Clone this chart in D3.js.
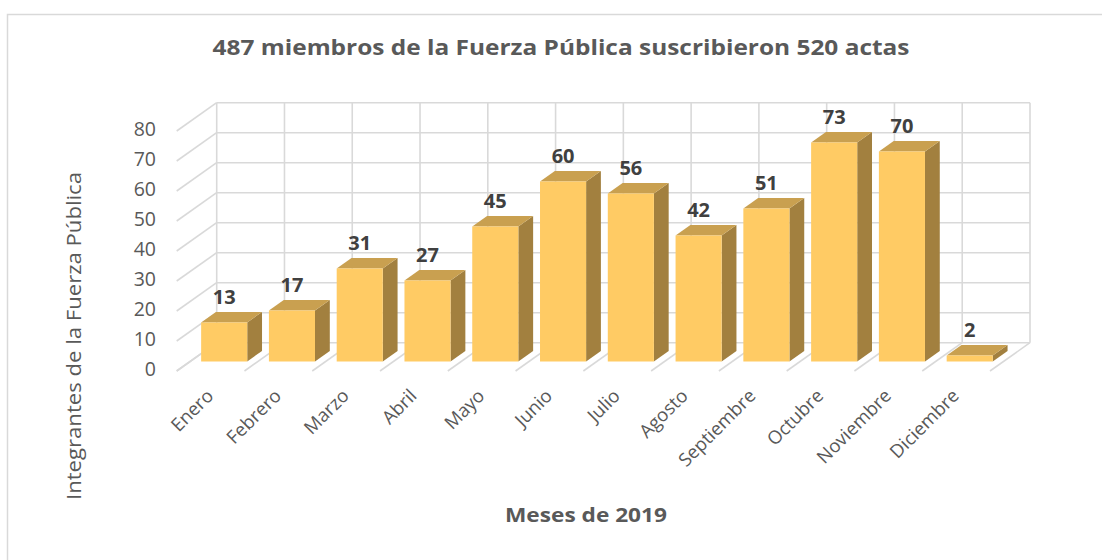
<!DOCTYPE html>
<html>
<head>
<meta charset="utf-8">
<script src="https://cdn.jsdelivr.net/npm/d3@7"></script>
<style>
  body { margin: 0; background: #fff; }
  svg { display: block; }
  .grid { stroke: #d9d9d9; stroke-width: 1.6; fill: none; }
  .tick-label { font-family: "Open Sans", sans-serif; fill: #595959; }
</style>
</head>
<body>
<div id="chart"></div>
<script>
// Chart data
const months = ["Enero", "Febrero", "Marzo", "Abril", "Mayo", "Junio",
                "Julio", "Agosto", "Septiembre", "Octubre", "Noviembre", "Diciembre"];
const members = [13, 17, 31, 27, 45, 60, 56, 42, 51, 73, 70, 2];
const yTicks = [0, 10, 20, 30, 40, 50, 60, 70, 80];

const chartTitle = "487 miembros de la Fuerza Pública suscribieron 520 actas";
const xTitle = "Meses de 2019";
const yTitle = "Integrantes de la Fuerza Pública";

const width = 1102, height = 560;

// back wall of the 3D box
const wall = { left: 216.7, right: 1030, top: 102.7, bottom: 342.7 };
// oblique offset from back wall to the front edge of the floor
const depth = { dx: -40, dy: 28.3 };
// bar depth range (0 = front, 1 = back)
const barFront = 0.34, barBack = 0.71;

const svg = d3.select('#chart')
    .append('svg')
    .attr('width', width)
    .attr('height', height);

// outer frame
svg.append('rect')
    .attr('x', 7.5).attr('y', 14.5)
    .attr('width', 1110).attr('height', 560)
    .attr('fill', 'none')
    .attr('stroke', '#d9d9d9')
    .attr('stroke-width', 1.5);

const xGrid = d3.scaleBand().domain(months).range([0, wall.right - wall.left]).padding(0);
const xBar = d3.scaleBand().domain(months).range([0, wall.right - wall.left])
    .paddingInner(0.32).paddingOuter(0.16);
const y = d3.scaleLinear().domain([0, 80]).range([wall.bottom, wall.top]);

// project a point: x along category axis, value v, depth d (0 front, 1 back)
function proj(x, v, d) {
    return [wall.left + x + (1 - d) * depth.dx, y(v) + (1 - d) * depth.dy];
}

const grid = svg.append('g');

// back wall horizontal lines
yTicks.forEach(t => {
    grid.append('line').attr('class', 'grid')
        .attr('x1', wall.left).attr('x2', wall.right)
        .attr('y1', y(t)).attr('y2', y(t));
    // side wall diagonals
    const p0 = proj(0, t, 0), p1 = proj(0, t, 1);
    grid.append('line').attr('class', 'grid')
        .attr('x1', p0[0]).attr('y1', p0[1])
        .attr('x2', p1[0]).attr('y2', p1[1]);
});

// back wall verticals and floor diagonals at category boundaries
const bounds = months.map(m => xGrid(m)).concat([xGrid.range()[1]]);
bounds.forEach(bx => {
    grid.append('line').attr('class', 'grid')
        .attr('x1', wall.left + bx).attr('x2', wall.left + bx)
        .attr('y1', wall.top).attr('y2', wall.bottom);
    const p0 = proj(bx, 0, 0), p1 = proj(bx, 0, 1);
    grid.append('line').attr('class', 'grid')
        .attr('x1', p0[0]).attr('y1', p0[1])
        .attr('x2', p1[0]).attr('y2', p1[1]);
});

// bars
const bars = svg.append('g');
const pts = a => a.map(p => p.join(',')).join(' ');

months.forEach((m, i) => {
    const v = members[i];
    const x0 = xBar(m), x1 = x0 + xBar.bandwidth();
    const fbl = proj(x0, 0, barFront), fbr = proj(x1, 0, barFront);
    const ftl = proj(x0, v, barFront), ftr = proj(x1, v, barFront);
    const btl = proj(x0, v, barBack), btr = proj(x1, v, barBack);
    const bbr = proj(x1, 0, barBack);

    // side face
    bars.append('polygon')
        .attr('points', pts([fbr, ftr, btr, bbr]))
        .attr('fill', '#a2803f');
    // top face
    bars.append('polygon')
        .attr('points', pts([ftl, ftr, btr, btl]))
        .attr('fill', '#c9a050');
    // front face
    bars.append('polygon')
        .attr('points', pts([fbl, fbr, ftr, ftl]))
        .attr('fill', '#ffcb64');

    // value label
    svg.append('text')
        .attr('x', (ftl[0] + ftr[0]) / 2)
        .attr('y', ftl[1] - 18)
        .attr('text-anchor', 'middle')
        .style('font-family', '"Open Sans", sans-serif')
        .style('font-weight', 'bold')
        .style('font-size', '20px')
        .style('fill', '#404040')
        .text(v);
});

// y axis tick labels (front-left edge)
yTicks.forEach(t => {
    const p = proj(0, t, 0);
    svg.append('text')
        .attr('class', 'tick-label')
        .attr('x', 156)
        .attr('y', p[1] - 2)
        .attr('dy', '0.35em')
        .attr('text-anchor', 'end')
        .style('font-size', '19.5px')
        .text(t);
});

// x axis category labels
months.forEach(m => {
    const p = proj(xGrid(m) + xGrid.bandwidth() / 2, 0, 0);
    svg.append('text')
        .attr('class', 'tick-label')
        .attr('transform', `translate(${p[0] + 4},${p[1] + 26}) rotate(-45)`)
        .attr('text-anchor', 'end')
        .style('font-size', '18.5px')
        .text(m);
});

// chart title
svg.append('text')
    .attr('x', 561)
    .attr('y', 55)
    .attr('text-anchor', 'middle')
    .style('font-family', '"Open Sans", sans-serif')
    .style('font-weight', 'bold')
    .style('font-size', '22px')
    .style('fill', '#595959')
    .attr('textLength', 697)
    .attr('lengthAdjust', 'spacingAndGlyphs')
    .text(chartTitle);

// axis titles
svg.append('text')
    .attr('x', 586)
    .attr('y', 522)
    .attr('text-anchor', 'middle')
    .style('font-family', '"Open Sans", sans-serif')
    .style('font-weight', 'bold')
    .style('font-size', '20px')
    .style('fill', '#595959')
    .attr('textLength', 162)
    .attr('lengthAdjust', 'spacingAndGlyphs')
    .text(xTitle);

svg.append('text')
    .attr('transform', 'translate(81,336) rotate(-90)')
    .attr('text-anchor', 'middle')
    .style('font-family', '"Open Sans", sans-serif')
    .style('font-size', '20px')
    .style('fill', '#595959')
    .attr('textLength', 328)
    .attr('lengthAdjust', 'spacingAndGlyphs')
    .text(yTitle);
</script>
</body>
</html>
